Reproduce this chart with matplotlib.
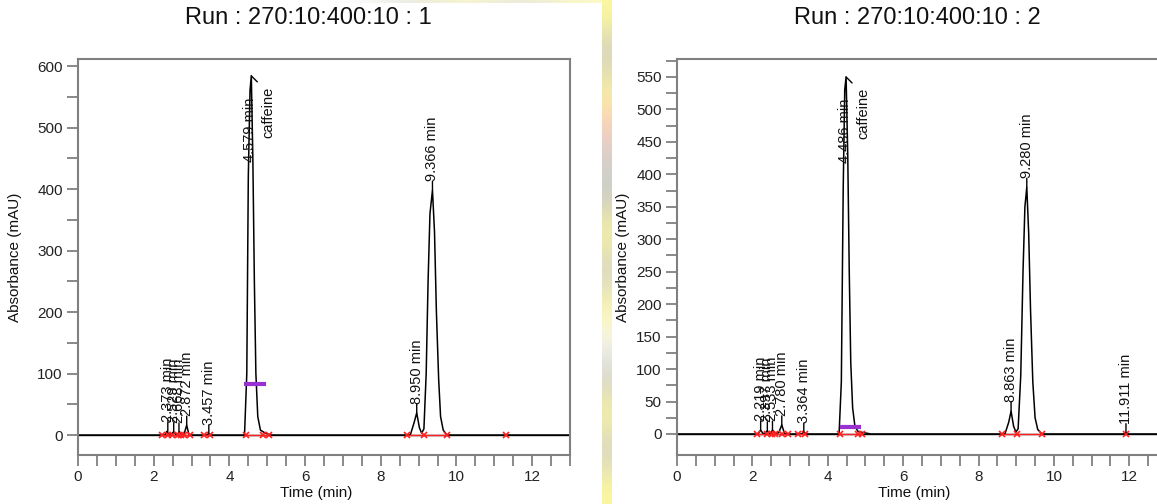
import matplotlib
matplotlib.use("Agg")
import matplotlib.pyplot as plt
import numpy as np

plt.rcParams['font.family'] = ['Liberation Sans', 'DejaVu Sans']

# run 1 trace (time in min, absorbance in mAU)
t1 = [0, 2.30, 2.35, 2.40, 2.47, 2.52, 2.58, 2.64, 2.68, 2.74, 2.80, 2.872, 2.93, 3.0,
      3.40, 3.457, 3.52, 4.40, 4.46, 4.50, 4.545, 4.579, 4.62, 4.66, 4.70, 4.75, 4.82,
      4.95, 5.10, 8.78, 8.88, 8.95, 9.02, 9.08, 9.14, 9.20, 9.25, 9.30, 9.366, 9.42,
      9.47, 9.53, 9.58, 9.65, 9.75, 13]
a1 = [0, 0, 6, 1, 1, 5, 1, 1, 5, 1, 1, 16, 1, 0,
      0, 2, 0, 0, 100, 420, 560, 584, 450, 250, 100, 30, 8,
      3, 0, 0, 20, 36, 12, 3, 10, 100, 250, 360, 398, 330,
      200, 90, 30, 8, 0, 0]

# run 2 trace
t2 = [0, 2.15, 2.219, 2.28, 2.34, 2.397, 2.45, 2.49, 2.533, 2.60, 2.70, 2.780, 2.85,
      2.95, 3.30, 3.364, 3.43, 4.30, 4.36, 4.41, 4.45, 4.486, 4.53, 4.57, 4.61, 4.66,
      4.72, 4.80, 4.95, 5.15, 8.70, 8.80, 8.863, 8.93, 8.99, 9.05, 9.12, 9.18, 9.23,
      9.280, 9.33, 9.38, 9.44, 9.50, 9.57, 9.68, 11.85, 11.911, 11.97, 13]
a2 = [0, 0, 6, 1, 1, 5, 1, 1, 6, 1, 2, 14, 1,
      0, 0, 3, 0, 0, 80, 380, 530, 550, 430, 250, 110, 40,
      12, 4, 2, 0, 0, 18, 35, 12, 3, 8, 90, 250, 350,
      380, 310, 190, 80, 25, 7, 0, 0, 2, 0, 0]

# peak labels: retention time, apex height
peaks1 = [2.373, 2.529, 2.668, 2.872, 3.457, 8.950, 9.366]
apex1 = [6, 5, 5, 16, 2, 36, 398]
peaks2 = [2.219, 2.397, 2.533, 2.780, 3.364, 8.863, 9.280, 11.911]
apex2 = [6, 5, 6, 14, 3, 35, 380, 2]
caff1, caff_apex1 = 4.579, 584
caff2, caff_apex2 = 4.486, 550

# integration start/end markers and baseline segments
marks1 = [2.23, 2.39, 2.49, 2.63, 2.71, 2.79, 2.97, 3.32, 3.50, 4.43, 4.90, 5.04,
          8.68, 9.13, 9.74, 11.30]
segs1 = [(2.23, 2.97), (3.32, 3.50), (4.43, 5.04), (8.68, 9.13), (9.13, 9.74)]
marks2 = [2.12, 2.39, 2.52, 2.60, 2.79, 2.94, 3.21, 3.40, 4.32, 4.80, 4.92,
          8.62, 9.02, 9.68, 11.911]
segs2 = [(2.12, 2.94), (3.21, 3.40), (4.32, 4.92), (8.62, 9.02), (9.02, 9.68)]

# half-height width bar on the caffeine peak
width1 = (4.38, 4.96, 83)
width2 = (4.33, 4.88, 10)

W, H = 1157, 504
fig = plt.figure(figsize=(W / 100, H / 100), dpi=100)

# strip between the two screenshots
strip = fig.add_axes([602 / W, 0, 10 / W, 1])
cols = np.array([[0.99, 0.97, 0.62], [0.80, 0.80, 0.78], [0.99, 0.96, 0.62],
                 [0.98, 0.80, 0.75], [0.82, 0.82, 0.80], [0.80, 0.80, 0.78],
                 [0.99, 0.97, 0.62], [0.82, 0.82, 0.80], [0.99, 0.97, 0.66],
                 [0.97, 0.97, 0.95], [0.82, 0.82, 0.80], [0.99, 0.97, 0.62],
                 [0.82, 0.82, 0.80], [0.99, 0.97, 0.62]])
strip.imshow(cols[:, None, :], aspect='auto', interpolation='bicubic')
strip.axis('off')
top = fig.add_axes([330 / W, 1 - 3 / H, 272 / W, 3 / H])
top.imshow(np.array([[[1, 1, 1], [0.90, 0.90, 0.88], [0.99, 0.98, 0.80], [0.90, 0.90, 0.88],
                      [0.99, 0.98, 0.78]]]), aspect='auto', interpolation='bicubic')
top.axis('off')

spine_c = '#808080'


def panel(rect, t, a, peaks, apex, caff, caff_apex, marks, segs, width, ylim, ymaj, ymin_step,
          title, tx, ylab_x):
    ax = fig.add_axes(rect)
    ax.plot([0, 13], [0, 0], color='black', lw=1.0)
    ax.plot(t, a, color='black', lw=1.1)
    for s, e in segs:
        ax.plot([s, e], [0, 0], color='#ff2020', lw=1.0)
    ax.plot(marks, [0] * len(marks), ls='none', marker='x', color='#ff2020', ms=5, mew=1.2)
    ax.plot([width[0], width[1]], [width[2], width[2]], color='#9b30d0', lw=3, solid_capstyle='butt')

    for p, h in zip(peaks, apex):
        ax.annotate('', xy=(p, h), xytext=(0, 9), textcoords='offset pixels',
                    arrowprops=dict(arrowstyle='-', color='black', lw=1.0, shrinkA=0, shrinkB=0))
        ax.annotate('%.3f min' % p, xy=(p, h), xytext=(0, 9), textcoords='offset pixels',
                    rotation=90, ha='center', va='bottom', fontsize=10.5, color='#111111')
    ax.annotate('', xy=(caff, caff_apex), xytext=(6, -6), textcoords='offset pixels',
                arrowprops=dict(arrowstyle='-', color='black', lw=1.0, shrinkA=0, shrinkB=0))
    ax.annotate('%.3f min' % caff, xy=(caff, caff_apex), xytext=(-1, -22), textcoords='offset pixels',
                rotation=90, ha='center', va='top', fontsize=10.5, color='#111111')
    ax.annotate('caffeine', xy=(caff, caff_apex), xytext=(17, -11), textcoords='offset pixels',
                rotation=90, ha='center', va='top', fontsize=10.5, color='#111111')

    ax.set_xlim(0, 13)
    ax.set_ylim(*ylim)
    ax.set_xticks(np.arange(0, 13, 2))
    ax.set_xticks(np.arange(0, 13.01, 0.5), minor=True)
    ax.set_yticks(np.arange(0, ylim[1], ymaj))
    ax.set_yticks(np.arange(0, ylim[1], ymin_step), minor=True)
    ax.tick_params(which='both', direction='out', color=spine_c, width=1.3, length=8,
                   labelsize=11, labelcolor='#222222', pad=3)
    for sp in ax.spines.values():
        sp.set_color(spine_c)
        sp.set_linewidth(1.5)
    ax.set_xlabel('Time (min)', fontsize=11, color='#111111')
    ax.set_ylabel('Absorbance (mAU)', fontsize=11, color='#111111')
    ax.yaxis.set_label_coords(ylab_x, 0.5)
    ax.xaxis.set_label_coords(0.485, -0.078)
    fig.text(tx, 1 - 18 / H, title, ha='center', va='center', fontsize=17, color='#111111')
    return ax


panel([78 / W, 49 / H, 492 / W, 396 / H], t1, a1, peaks1, apex1, caff1, caff_apex1,
      marks1, segs1, width1, (-32.5, 611.4), 100, 50, 'Run : 270:10:400:10 : 1', 308 / W, -0.113)
panel([677 / W, 49 / H, 490 / W, 396 / H], t2, a2, peaks2, apex2, caff2, caff_apex2,
      marks2, segs2, width2, (-32.4, 577.7), 50, 25, 'Run : 270:10:400:10 : 2', 917 / W, -0.095)

fig.savefig('out.png', dpi=100)
